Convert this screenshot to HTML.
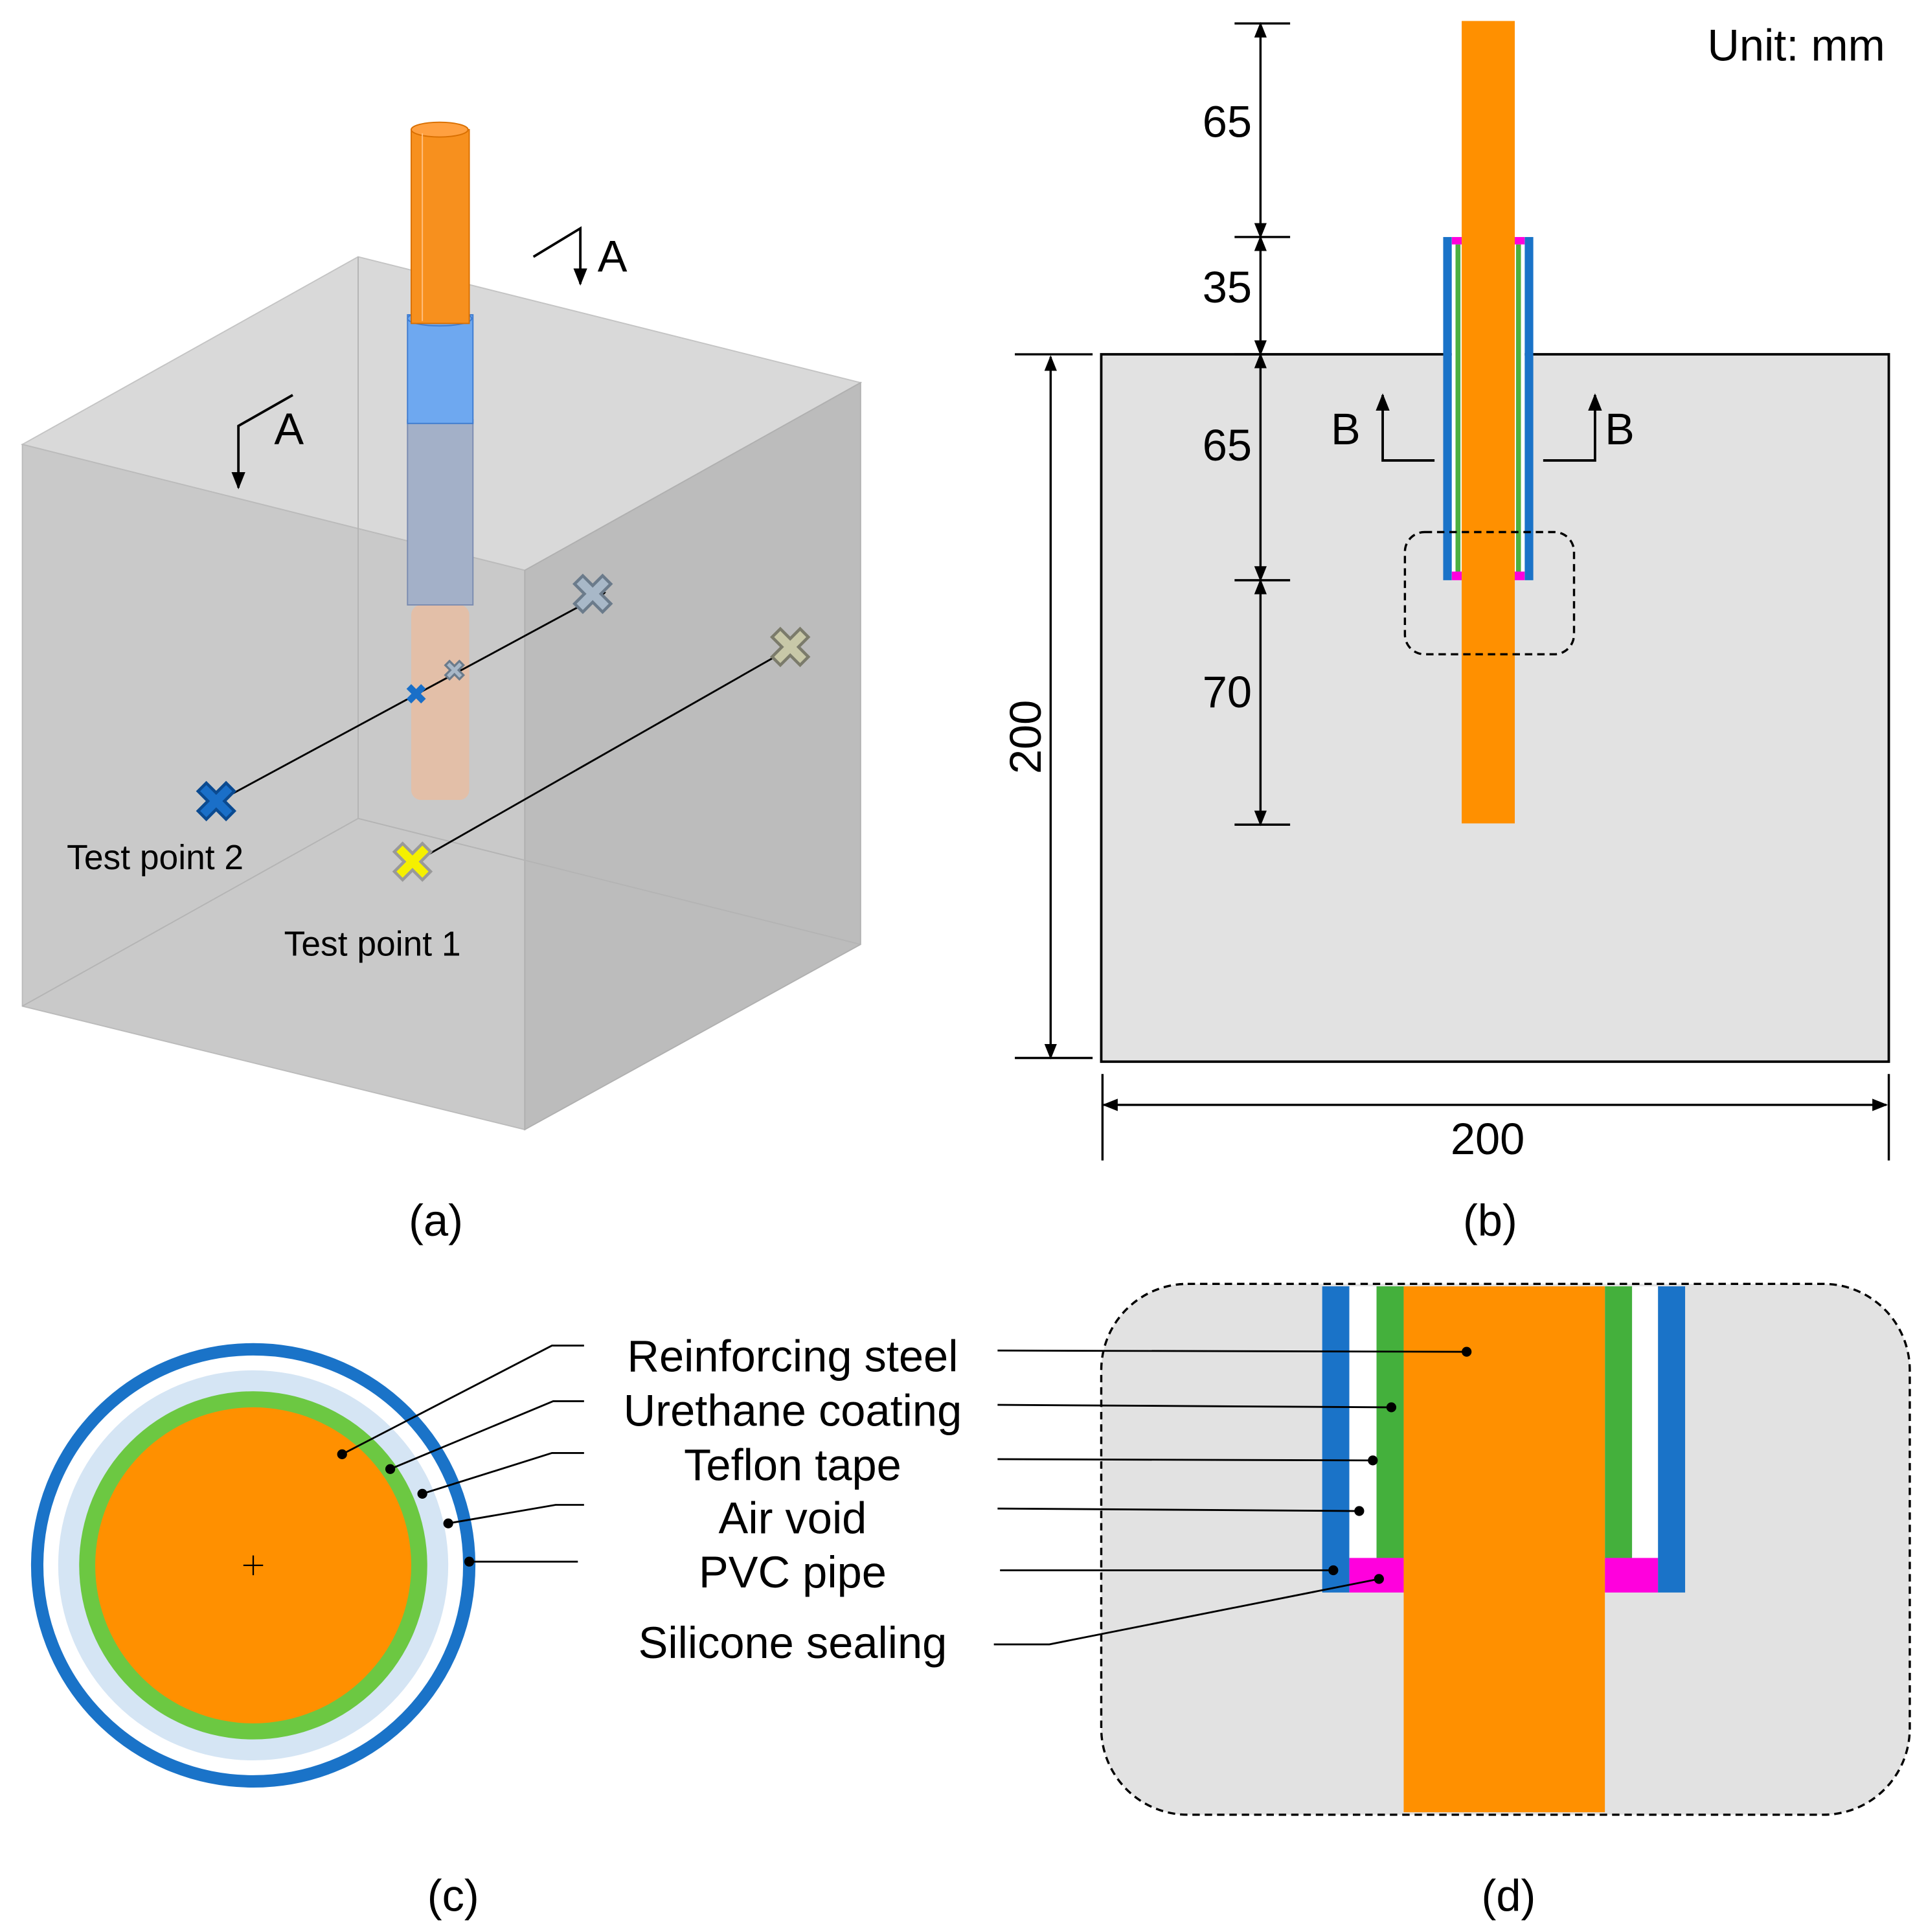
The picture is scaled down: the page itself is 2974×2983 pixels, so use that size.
<!DOCTYPE html>
<html><head><meta charset="utf-8"><style>html,body{margin:0;padding:0;background:#fff}svg{display:block}</style></head><body>
<svg width="2974" height="2983" viewBox="0 0 1560 1565" xmlns="http://www.w3.org/2000/svg" font-family="Liberation Sans, Arial, sans-serif">
<defs><marker id="ar" viewBox="0 0 10 10" refX="9" refY="5" markerWidth="7" markerHeight="7" orient="auto-start-reverse"><path d="M0,1 L10,5 L0,9 z" fill="#000"/></marker></defs>
<!-- Panel a cube -->
<polygon points="18,360 290,208 697,310 425,462" fill="#d9d9d9" stroke="#c4c4c4"/>
<polygon points="18,360 425,462 425,915 18,815" fill="#c9c9c9" stroke="#bbb"/>
<polygon points="425,462 697,310 697,765 425,915" fill="#bcbcbc" stroke="#b0b0b0"/>
<g stroke="#b4b4b4" fill="none"><line x1="290" y1="208" x2="290" y2="663"/><line x1="290" y1="663" x2="18" y2="815"/><line x1="290" y1="663" x2="697" y2="765"/></g>
<rect x="333" y="490" width="47" height="158" rx="8" fill="#e3bfa8"/>
<rect x="330" y="340" width="53" height="150" fill="#a3b0c8" stroke="#7a8bb0"/>
<rect x="330" y="255" width="53" height="88" fill="#6ea8f0" stroke="#3d7bd0"/>
<ellipse cx="356" cy="258" rx="26" ry="6" fill="#6ea8f0" stroke="#3d7bd0"/>
<rect x="333" y="105" width="47" height="157" fill="#f7901e" stroke="#d96f00"/>
<ellipse cx="356" cy="105" rx="23" ry="6" fill="#ffa040" stroke="#d96f00"/>
<line x1="342" y1="108" x2="342" y2="260" stroke="#ffc080"/>
<!-- A marks -->
<polyline points="432,208 470,185 470,230" fill="none" stroke="#000" stroke-width="2" marker-end="url(#ar)"/>
<text x="484" y="220" font-size="36">A</text>
<polyline points="237,320 193,345 193,395" fill="none" stroke="#000" stroke-width="2" marker-end="url(#ar)"/>
<text x="222" y="360" font-size="36">A</text>
<!-- test lines -->
<line x1="175" y1="650" x2="490" y2="480" stroke="#000" stroke-width="1.5" marker-end="url(#ar)"/>
<line x1="333" y1="700" x2="640" y2="525" stroke="#000" stroke-width="1.5" marker-end="url(#ar)"/>
<g font-size="44" font-weight="bold" text-anchor="middle">
<text x="175" y="665" fill="#1a6fc8" stroke="#0b4a90">✖</text>
<text x="334" y="714" fill="#f5f000" stroke="#999">✖</text>
<text x="480" y="497" fill="#a8b8c8" stroke="#6b7b8b">✖</text>
<text x="640" y="540" fill="#c8c8a8" stroke="#7b7b6b">✖</text>
</g>
<g font-size="22" font-weight="bold" text-anchor="middle">
<text x="337" y="570" fill="#1a6fc8">✖</text><text x="368" y="551" fill="#a8b8c8" stroke="#6b7b8b">✖</text></g>
<text x="54" y="704" font-size="28">Test point 2</text>
<text x="230" y="774" font-size="28">Test point 1</text>
<!-- Panel b -->
<rect x="892" y="287" width="638" height="573" fill="#e2e2e2" stroke="#000" stroke-width="2"/>
<rect x="1169" y="192" width="7" height="278" fill="#1a73c8"/>
<rect x="1235" y="192" width="7" height="278" fill="#1a73c8"/>
<rect x="1176" y="192" width="59" height="278" fill="#fff"/>
<rect x="1179" y="198" width="4" height="265" fill="#4cb040"/>
<rect x="1228" y="198" width="4" height="265" fill="#4cb040"/>
<rect x="1176" y="192" width="8" height="6" fill="#ff00dd"/><rect x="1227" y="192" width="8" height="6" fill="#ff00dd"/>
<rect x="1176" y="463" width="8" height="7" fill="#ff00dd"/><rect x="1227" y="463" width="8" height="7" fill="#ff00dd"/>
<rect x="1184" y="17" width="43" height="650" fill="#ff9000"/>
<rect x="1138" y="431" width="137" height="99" rx="16" fill="none" stroke="#000" stroke-width="1.8" stroke-dasharray="6,4"/>
<polyline points="1162,373 1120,373 1120,320" fill="none" stroke="#000" stroke-width="2" marker-end="url(#ar)"/>
<text x="1078" y="360" font-size="36">B</text>
<polyline points="1250,373 1292,373 1292,320" fill="none" stroke="#000" stroke-width="2" marker-end="url(#ar)"/>
<text x="1300" y="360" font-size="36">B</text>
<g stroke="#000" stroke-width="1.8">
<line x1="1000" y1="19" x2="1045" y2="19"/><line x1="1000" y1="192" x2="1045" y2="192"/><line x1="1000" y1="287" x2="1045" y2="287"/><line x1="1000" y1="470" x2="1045" y2="470"/><line x1="1000" y1="668" x2="1045" y2="668"/>
<line x1="1021" y1="19" x2="1021" y2="192" marker-start="url(#ar)" marker-end="url(#ar)"/>
<line x1="1021" y1="192" x2="1021" y2="287" marker-start="url(#ar)" marker-end="url(#ar)"/>
<line x1="1021" y1="287" x2="1021" y2="470" marker-start="url(#ar)" marker-end="url(#ar)"/>
<line x1="1021" y1="470" x2="1021" y2="668" marker-start="url(#ar)" marker-end="url(#ar)"/>
<line x1="822" y1="287" x2="885" y2="287"/><line x1="822" y1="857" x2="885" y2="857"/>
<line x1="851" y1="289" x2="851" y2="857" marker-start="url(#ar)" marker-end="url(#ar)"/>
<line x1="893" y1="870" x2="893" y2="940"/><line x1="1530" y1="870" x2="1530" y2="940"/>
<line x1="894" y1="895" x2="1528" y2="895" marker-start="url(#ar)" marker-end="url(#ar)"/>
</g>
<g font-size="36" text-anchor="middle">
<text x="994" y="111">65</text><text x="994" y="245">35</text><text x="994" y="373">65</text><text x="994" y="573">70</text>
<text x="1205" y="935">200</text>
<text transform="translate(843,597) rotate(-90)">200</text>
<text x="1455" y="49">Unit: mm</text>
<text x="353" y="1001">(a)</text><text x="1207" y="1001">(b)</text><text x="367" y="1548">(c)</text><text x="1222" y="1548">(d)</text>
</g>
<!-- Panel c -->
<circle cx="205" cy="1268" r="175" fill="#fff" stroke="#1a73c8" stroke-width="10"/>
<circle cx="205" cy="1268" r="158" fill="#d5e5f4"/>
<circle cx="205" cy="1268" r="141" fill="#6cc842"/>
<circle cx="205" cy="1268" r="128" fill="#ff9000"/>
<path d="M197,1268h16M205,1260v16" stroke="#000" stroke-width="1.2"/>
<g stroke="#000" stroke-width="1.5" fill="none">
<polyline points="473,1090 447,1090 277,1178"/><polyline points="473,1135 448,1135 316,1190"/><polyline points="473,1177 447,1177 342,1210"/><polyline points="473,1219 450,1219 363,1234"/><polyline points="468,1265 380,1265"/>
</g>
<g fill="#000"><circle cx="277" cy="1178" r="4"/><circle cx="316" cy="1190" r="4"/><circle cx="342" cy="1210" r="4"/><circle cx="363" cy="1234" r="4"/><circle cx="380" cy="1265" r="4"/></g>
<g font-size="36" text-anchor="middle">
<text x="642" y="1111">Reinforcing steel</text><text x="642" y="1155">Urethane coating</text><text x="642" y="1199">Teflon tape</text><text x="642" y="1242">Air void</text><text x="642" y="1286">PVC pipe</text><text x="642" y="1343">Silicone sealing</text>
</g>
<!-- Panel d -->
<rect x="892" y="1040" width="655" height="430" rx="70" fill="#e2e2e2" stroke="#000" stroke-width="1.8" stroke-dasharray="6,4"/>
<rect x="1071" y="1042" width="22" height="248" fill="#1a73c8"/><rect x="1343" y="1042" width="22" height="248" fill="#1a73c8"/>
<rect x="1093" y="1042" width="22" height="220" fill="#fff"/><rect x="1322" y="1042" width="21" height="220" fill="#fff"/>
<rect x="1115" y="1042" width="22" height="220" fill="#44b03c"/><rect x="1300" y="1042" width="22" height="220" fill="#44b03c"/>
<rect x="1093" y="1262" width="44" height="28" fill="#ff00dd"/><rect x="1300" y="1262" width="43" height="28" fill="#ff00dd"/>
<rect x="1137" y="1042" width="163" height="426" fill="#ff9000"/>
<g stroke="#000" stroke-width="1.5" fill="none">
<line x1="808" y1="1094" x2="1188" y2="1095"/><line x1="808" y1="1138" x2="1127" y2="1140"/><line x1="808" y1="1182" x2="1112" y2="1183"/><line x1="808" y1="1222" x2="1101" y2="1224"/><line x1="810" y1="1272" x2="1080" y2="1272"/><polyline points="805,1332 850,1332 1117,1279"/>
</g>
<g fill="#000"><circle cx="1188" cy="1095" r="4"/><circle cx="1127" cy="1140" r="4"/><circle cx="1112" cy="1183" r="4"/><circle cx="1101" cy="1224" r="4"/><circle cx="1080" cy="1272" r="4"/><circle cx="1117" cy="1279" r="4"/></g>
</svg>
</body></html>
